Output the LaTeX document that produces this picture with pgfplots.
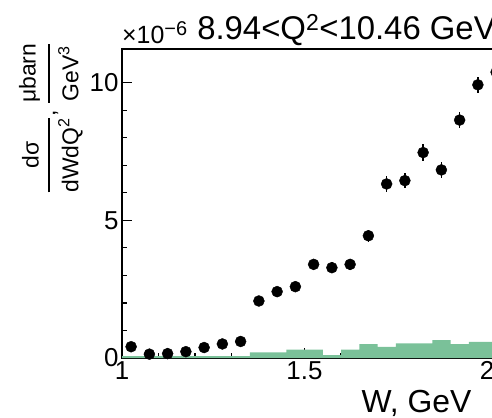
\documentclass[border=0pt]{standalone}
\usepackage{amsmath}
\usepackage{fontspec}
\setmainfont{Liberation Sans}
\usepackage{pgfplots}
\pgfplotsset{compat=1.18}
\definecolor{histgreen}{RGB}{122,193,153}

\begin{document}
\begin{tikzpicture}
\useasboundingbox (0,0) rectangle (492bp,418bp);
\clip (0,0) rectangle (492bp,418bp);
\begin{axis}[
    at={(122bp,60bp)}, anchor=south west,
    scale only axis, width=401.5bp, height=308.7bp,
    xmin=1, xmax=2.1, ymin=0, ymax=11.21,
    clip=false,
    xtick={1,1.5,2}, ytick={0,5,10},
    minor x tick num=4, minor y tick num=4,
    xtick pos=left, ytick pos=left,
    tick align=inside,
    major tick length=10bp, minor tick length=5bp,
    every tick/.style={black, line width=1.3bp},
    axis line style={line width=1.6bp},
    ticklabel style={font=\fontsize{26}{28}\selectfont},
    /pgf/number format/assume math mode=true,
    xlabel={W, GeV},
    xlabel style={at={(axis description cs:0.879,0)}, anchor=base east,
        yshift=-54bp, font=\fontsize{32}{34}\selectfont},
    ylabel={$\genfrac{}{}{2.6bp}{0}{\text{dσ}}{\text{dWdQ\textsuperscript{2}}}\text{, }\genfrac{}{}{2.6bp}{0}{\text{μbarn}}{\text{GeV\textsuperscript{3}}}$},
    ylabel style={at={(axis description cs:-0.177,0.777)}, anchor=center,
        font=\fontsize{23}{25}\selectfont},
]
% systematic uncertainty band (histogram)
\addplot[fill=histgreen, draw=none, const plot] coordinates {
  (1.00,0.07) (1.05,0.07) (1.10,0.07) (1.15,0.07) (1.20,0.07) (1.25,0.07)
  (1.30,0.07) (1.35,0.20) (1.40,0.20) (1.45,0.30) (1.50,0.30) (1.55,0.10)
  (1.60,0.30) (1.65,0.50) (1.70,0.40) (1.75,0.53) (1.80,0.53) (1.85,0.65)
  (1.90,0.50) (1.95,0.59) (2.00,0.59) (2.10,0.59)
} \closedcycle;

% cross section points
\addplot[only marks, mark=*, mark size=5.5bp, black,
    error bars/.cd, y dir=both, y explicit,
    error bar style={line width=1.3bp}, error mark=none]
coordinates {
  (1.025,0.41) +- (0,0.06)
  (1.075,0.14) +- (0,0.05)
  (1.125,0.16) +- (0,0.05)
  (1.175,0.23) +- (0,0.06)
  (1.225,0.38) +- (0,0.07)
  (1.275,0.51) +- (0,0.08)
  (1.325,0.60) +- (0,0.08)
  (1.375,2.07) +- (0,0.18)
  (1.425,2.41) +- (0,0.18)
  (1.475,2.59) +- (0,0.18)
  (1.525,3.40) +- (0,0.20)
  (1.575,3.28) +- (0,0.20)
  (1.625,3.40) +- (0,0.20)
  (1.675,4.44) +- (0,0.22)
  (1.725,6.32) +- (0,0.28)
  (1.775,6.44) +- (0,0.28)
  (1.825,7.46) +- (0,0.30)
  (1.875,6.83) +- (0,0.30)
  (1.925,8.64) +- (0,0.30)
  (1.975,9.92) +- (0,0.30)
  (2.025,10.38) +- (0,0.32)
};

\node[anchor=base west, font=\fontsize{25}{27}\selectfont, inner sep=0pt]
  at (axis description cs:0,1) [yshift=6bp] {×10\raisebox{8bp}{\fontsize{20}{22}\selectfont −6}};
\node[anchor=base west, font=\fontsize{33}{35}\selectfont, inner sep=0pt]
  at (axis description cs:0.187,1) [yshift=9.5bp] {8.94<Q\textsuperscript{2}<10.46 GeV\textsuperscript{2}};
\end{axis}
\end{tikzpicture}
\end{document}
